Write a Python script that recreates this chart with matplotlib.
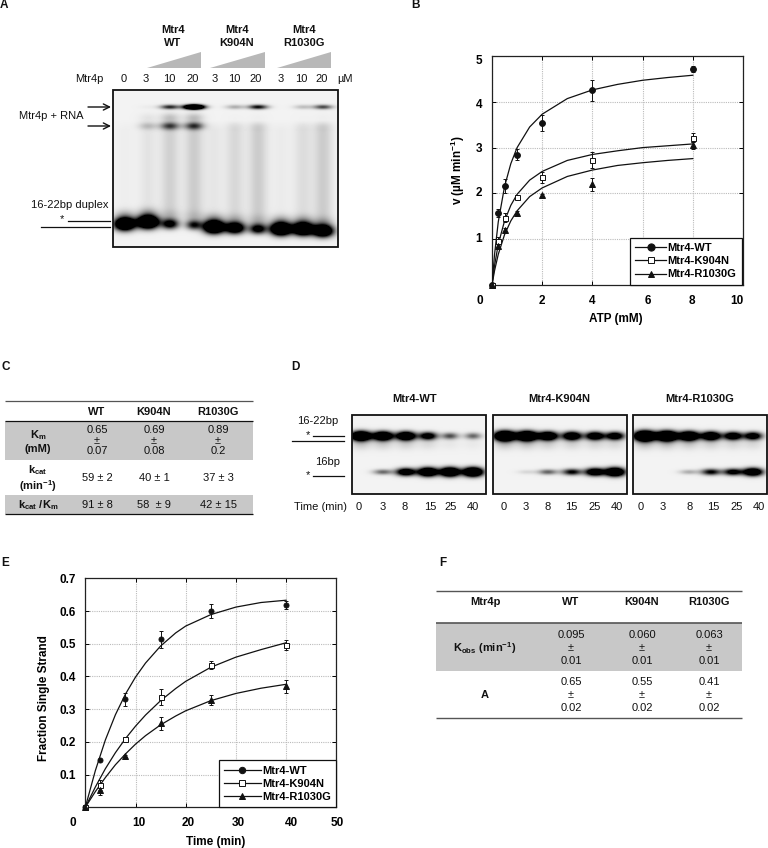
import matplotlib
matplotlib.use("Agg")
import matplotlib.pyplot as plt
import numpy as np
from matplotlib.patches import Polygon, Rectangle
from matplotlib.transforms import ScaledTranslation

plt.rcParams["font.family"] = ["Liberation Sans", "DejaVu Sans"]
plt.rcParams["mathtext.fontset"] = "custom"
plt.rcParams["mathtext.rm"] = "Liberation Sans"
plt.rcParams["mathtext.bf"] = "Liberation Sans:bold"

W, H = 768, 848
names = ["Mtr4-WT", "Mtr4-K904N", "Mtr4-R1030G"]

# panel B: points
atp = [0, 0.25, 0.5, 1, 2, 4, 8]
v_wt = [0, 1.57, 2.16, 2.84, 3.54, 4.25, 4.72]
v_wt_err = [0, 0.08, 0.15, 0.12, 0.17, 0.23, 0.06]
v_k = [0, 0.97, 1.47, 1.92, 2.35, 2.73, 3.22]
v_k_err = [0, 0.08, 0.1, 0.05, 0.12, 0.17, 0.1]
v_r = [0, 0.85, 1.2, 1.58, 1.96, 2.2, 3.05]
v_r_err = [0, 0.05, 0.05, 0.04, 0.03, 0.14, 0.08]

# panel B: fitted curves
atp_fit = [0, 0.1, 0.25, 0.5, 0.75, 1, 1.5, 2, 3, 4, 5, 6, 7, 8]
fit_b_wt = [0, 0.66, 1.38, 2.15, 2.65, 3.0, 3.45, 3.73, 4.07, 4.26, 4.38, 4.47, 4.53, 4.58]
fit_b_k = [0, 0.42, 0.89, 1.40, 1.74, 1.98, 2.29, 2.48, 2.72, 2.85, 2.93, 3.0, 3.04, 3.08]
fit_b_r = [0, 0.31, 0.67, 1.10, 1.40, 1.62, 1.93, 2.12, 2.37, 2.51, 2.61, 2.67, 2.72, 2.76]

# panel E: points
time_pts = [0, 3, 8, 15, 25, 40]
f_wt = [0, 0.146, 0.33, 0.513, 0.60, 0.618]
f_wt_err = [0, 0, 0.02, 0.025, 0.02, 0.012]
f_k = [0, 0.067, 0.21, 0.337, 0.434, 0.497]
f_k_err = [0, 0.015, 0.005, 0.024, 0.012, 0.015]
f_r = [0, 0.053, 0.158, 0.257, 0.329, 0.37]
f_r_err = [0, 0.015, 0.003, 0.02, 0.015, 0.02]

# panel E: fitted curves
time_fit = [0, 2, 4, 6, 8, 10, 12, 15, 18, 20, 25, 30, 35, 40]
fit_e_wt = [0, 0.112, 0.206, 0.283, 0.346, 0.398, 0.441, 0.493, 0.533, 0.554, 0.589, 0.612, 0.626, 0.633]
fit_e_k = [0, 0.062, 0.118, 0.167, 0.21, 0.248, 0.282, 0.326, 0.363, 0.385, 0.428, 0.459, 0.482, 0.503]
fit_e_r = [0, 0.048, 0.091, 0.13, 0.163, 0.193, 0.219, 0.252, 0.279, 0.295, 0.326, 0.348, 0.364, 0.376]

# gel A, lane intensities
a_doses = ["0", "3", "10", "20", "3", "10", "20", "3", "10", "20"]
a_free = [1.7, 1.9, 0.9, 0.7, 1.8, 1.3, 0.9, 1.8, 1.7, 1.5]
a_top = [0, 0.02, 0.6, 2.2, 0, 0.2, 0.7, 0, 0.15, 0.5]
a_second = [0, 0.2, 0.7, 0.75, 0, 0.03, 0.05, 0, 0.02, 0.05]
a_smear = [0.02, 0.06, 0.14, 0.16, 0.05, 0.11, 0.16, 0.03, 0.09, 0.16]

# gel D, lane intensities
d_times = ["0", "3", "8", "15", "25", "40"]
d_upper = [[1.7, 1.5, 1.4, 0.95, 0.45, 0.38], [1.9, 1.8, 1.4, 1.25, 1.15, 1.05], [2.0, 1.9, 1.6, 1.35, 1.1, 1.0]]
d_lower = [[0, 0.4, 1.2, 1.6, 1.7, 1.8], [0, 0.08, 0.42, 0.75, 1.25, 1.6], [0, 0, 0.2, 0.75, 0.9, 1.35]]

# tables
c_cols = ["WT", "K904N", "R1030G"]
c_km = [("0.65", "0.07"), ("0.69", "0.08"), ("0.89", "0.2")]
c_kcat = ["59 ± 2", "40 ± 1", "37 ± 3"]
c_ratio = ["91 ± 8", "58  ± 9", "42 ± 15"]
f_kobs = [("0.095", "0.01"), ("0.060", "0.01"), ("0.063", "0.01")]
f_a = [("0.65", "0.02"), ("0.55", "0.02"), ("0.41", "0.02")]


def add_axes_px(left, top, right, bottom):
    return fig.add_axes([left / W, 1 - bottom / H, (right - left) / W, (bottom - top) / H])


def txt(x, y, s, size=8, bold=False, ha="center"):
    page.text(x, y, s, fontsize=size, fontweight="bold" if bold else "normal",
              ha=ha, va="center", color="#111111")


def rule(x0, x1, y, color="#111111", lw=0.9):
    page.plot([x0, x1], [y, y], color=color, lw=lw, solid_capstyle="butt")


def gauss(x, c, s):
    return np.exp(-((x - c) / s) ** 2 / 2)


def draw_gel(left, top, right, bottom, bands, smears):
    xs = np.arange(left, right) + 0.5
    ys = np.arange(top, bottom) + 0.5
    gx, gy = np.meshgrid(xs, ys)
    dark = np.zeros_like(gx)
    for cx, cy, sx, sy, amp in bands:
        dark += amp * gauss(gx, cx, sx) * gauss(gy, cy, sy)
    for cx, y0, y1, sx, amp in smears:
        fade = np.clip((gy - y0) / 10, 0, 1) * np.clip((y1 - gy) / 6, 0, 1)
        dark += amp * gauss(gx, cx, sx) * fade
    img = 0.95 * (1 - np.clip(dark, 0, 1))
    page.imshow(img, extent=(left, right, bottom, top), cmap="gray", vmin=0, vmax=1,
                aspect="auto", interpolation="bilinear", zorder=1)
    page.add_patch(Rectangle((left, top), right - left, bottom - top, fill=False,
                             ec="#111111", lw=1.3, zorder=2))


def style_plot(ax, xlim, ylim, xticks, yticks, xlabels, ylabels, xshift, yshift):
    ax.set_xlim(xlim)
    ax.set_ylim(ylim)
    ax.set_xticks(xticks)
    ax.set_yticks(yticks)
    ax.set_xticklabels(xlabels, fontweight="bold", fontsize=8.5)
    ax.set_yticklabels(ylabels, fontweight="bold", fontsize=8.5)
    ax.grid(True, color="#bbbbbb", lw=0.8, ls=(0, (1, 1)))
    ax.set_axisbelow(True)
    ax.tick_params(direction="in", length=3, width=0.7, top=True, right=True, pad=7)
    for s in ax.spines.values():
        s.set_linewidth(0.9)
        s.set_color("#222222")
    # labels in the original sit off their ticks
    for lab, dx in zip(ax.get_xticklabels(), xshift):
        lab.set_transform(lab.get_transform() + ScaledTranslation(dx / 100, 0, fig.dpi_scale_trans))
    for lab, dy in zip(ax.get_yticklabels(), yshift):
        lab.set_transform(lab.get_transform() + ScaledTranslation(0, dy / 100, fig.dpi_scale_trans))


def draw_series(ax, x, y, yerr, xfit, yfit, marker, face, name, ms, lw=0.9):
    ax.plot(xfit, yfit, color="#111111", lw=lw, zorder=3)
    ax.errorbar(x, y, yerr=yerr, fmt=marker, mfc=face, mec="#111111", mew=0.7, ms=ms,
                ecolor="#111111", elinewidth=0.7, capsize=1.5, capthick=0.7, zorder=4,
                clip_on=False)
    ax.plot([], [], color="#111111", lw=0.9, marker=marker, mfc=face, mec="#111111",
            mew=0.7, ms=ms + 1, label=name)


def add_legend(ax, anchor, handle_len):
    leg = ax.legend(loc="lower right", bbox_to_anchor=anchor, borderaxespad=0, fancybox=False,
                    framealpha=1, edgecolor="#111111",
                    prop={"weight": "bold", "size": 8}, handlelength=handle_len, handletextpad=0.1,
                    labelspacing=0.28, borderpad=0.5)
    leg.get_frame().set_linewidth(0.9)
    leg.set_zorder(6)


fig = plt.figure(figsize=(W / 100, H / 100), dpi=100)
page = fig.add_axes([0, 0, 1, 1])
page.set_xlim(0, W)
page.set_ylim(H, 0)
page.axis("off")

# panel letters
for letter, lx, ly in [("A", 4, 5), ("B", 415, 5), ("C", 6, 367), ("D", 295, 367), ("E", 5, 563), ("F", 443, 563)]:
    txt(lx, ly, letter, bold=True, size=8.5)

# panel A
for cx, label in [(173, "Mtr4\nWT"), (237, "Mtr4\nK904N"), (304, "Mtr4\nR1030G")]:
    a, b = label.split("\n")
    txt(cx, 30, a, bold=True)
    txt(cx, 43, b, bold=True)
for x0, x1 in [(147, 201), (210, 265), (277, 331)]:
    page.add_patch(Polygon([(x0, 68), (x1, 68), (x1, 52)], fc="#b8b8b8", ec="none"))
txt(89, 79, "Mtr4p")
a_label_x = [124, 146, 169, 193, 215, 234, 256, 281, 301, 322]
for x, s in zip(a_label_x, a_doses):
    txt(x, 79, s)
txt(345, 79, "µM")
txt(51, 116, "Mtr4p + RNA")
for y in [107, 126]:
    page.annotate("", xy=(111, y), xytext=(88, y),
                  arrowprops=dict(arrowstyle="->", color="#111111", lw=1.0, mutation_scale=11,
                                  shrinkA=0, shrinkB=0))
txt(70, 205, "16-22bp duplex")
txt(62, 219, "*")
page.plot([68, 110], [221, 221], color="#111111", lw=0.9)
page.plot([41, 110], [227, 227], color="#111111", lw=0.9)

lane_a = [125, 148, 170, 194, 214, 235, 258, 281, 303, 323]
free_y = [224, 222, 224, 225, 227, 228, 229, 229, 229, 231]
bands = []
smears = []
for i, cx in enumerate(lane_a):
    wide = 4.2 + 2.8 * min(a_free[i], 1.5) / 1.5
    bands.append((cx, free_y[i], wide, 2.4 + 1.9 * min(a_free[i], 1.7) / 1.7, a_free[i] * 1.4))
    bands.append((cx, free_y[i] - 9, 7, 4, a_free[i] * 0.13))
    bands.append((cx, 107, 6.5, 1.6, a_top[i] * 1.4))
    bands.append((cx, 126, 6.5, 2.6, a_second[i]))
    bands.append((cx, 118, 6.5, 3.5, a_second[i] * 0.3))
    smears.append((cx, 120, free_y[i], 6.5, a_smear[i]))
draw_gel(113, 90, 338, 247, bands, smears)

# panel B
ax_b = add_axes_px(492, 56, 743, 285)
style_plot(ax_b, (0, 10), (0, 5), [0, 2, 4, 6, 8, 10], [1, 2, 3, 4, 5],
           ["0", "2", "4", "6", "8", "10"], ["1", "2", "3", "4", "5"],
           [-12, 0, 0, 5, -1, -6], [2, 2, 0, -2, -3])
draw_series(ax_b, atp, v_wt, v_wt_err, atp_fit, fit_b_wt, "o", "#111111", names[0], 4.2)
draw_series(ax_b, atp, v_k, v_k_err, atp_fit, fit_b_k, "s", "white", names[1], 3.6)
draw_series(ax_b, atp, v_r, v_r_err, atp_fit, fit_b_r, "^", "#111111", names[2], 3.8)
add_legend(ax_b, (0.995, 0), 2.8)
ax_b.set_xlabel("ATP (mM)", fontweight="bold", fontsize=8.5)
ax_b.xaxis.set_label_coords(616, 313, transform=page.transData)
ax_b.set_ylabel(r"v (µM min$^{\mathbf{-1}}$)", fontweight="bold", fontsize=8.5)
ax_b.yaxis.set_label_coords(467, 170, transform=page.transData)

# panel C
page.add_patch(Rectangle((5, 421), 248, 39, fc="#c8c8c8", ec="none"))
page.add_patch(Rectangle((5, 495), 248, 19, fc="#c8c8c8", ec="none"))
rule(5, 253, 401, "#555555")
rule(5, 253, 421)
rule(5, 253, 514)
c_x = [97, 154, 218]
for i, x in enumerate(c_x):
    txt(x, 412, c_cols[i], bold=True)
    txt(x, 430, c_km[i][0])
    txt(x, 441, "±")
    txt(x, 451, c_km[i][1])
    txt(x, 478, c_kcat[i])
    txt(x, 505, c_ratio[i])
txt(38, 435, r"K$_{\mathbf{m}}$", bold=True)
txt(38, 449, "(mM)", bold=True)
txt(38, 470, r"k$_{\mathbf{cat}}$", bold=True)
txt(38, 486, r"(min$^{\mathbf{-1}}$)", bold=True)
txt(38, 505, r"k$_{\mathbf{cat}}$ /K$_{\mathbf{m}}$", bold=True)

# panel D
boxes = [(352, 486), (493, 627), (633, 767)]
d_lanes = [[361, 383, 406, 428, 450, 473], [505, 527, 548, 572, 595, 615], [645, 667, 689, 711, 733, 753]]
for b, (x0, x1) in enumerate(boxes):
    bands = []
    for i, cx in enumerate(d_lanes[b]):
        up = d_upper[b][i]
        bands.append((cx, 436, 5.4 + 1.6 * min(up, 2) / 2, 2 + 1.4 * min(up, 2) / 2, up * 1.5))
        bands.append((cx, 444, 7, 4, up * 0.1))
        bands.append((cx, 472, 6.6, 1.5 + 1.6 * min(d_lower[b][i], 1.7) / 1.7, d_lower[b][i] * 1.4))
    draw_gel(x0, 415, x1, 494, bands, [])
for x, s in [(415, names[0]), (559, names[1]), (700, names[2])]:
    txt(x, 399, s, bold=True)
txt(318, 421, "16-22bp")
txt(308, 435, "*")
page.plot([313, 344], [436, 436], color="#111111", lw=0.9)
page.plot([292, 344], [441, 441], color="#111111", lw=0.9)
txt(328, 462, "16bp")
txt(308, 475, "*")
page.plot([313, 344], [476, 476], color="#111111", lw=0.9)
txt(320, 507, "Time (min)")
d_label_x = [359, 383, 405, 430, 451, 473, 504, 526, 548, 571, 595, 617, 641, 663, 690, 713, 737, 759]
for i, x in enumerate(d_label_x):
    txt(x, 507, d_times[i % 6])

# panel E
ax_e = add_axes_px(85.3, 578.3, 336.3, 807.3)
style_plot(ax_e, (0, 50), (0, 0.7), [0, 10, 20, 30, 40, 50], [0.1, 0.2, 0.3, 0.4, 0.5, 0.6, 0.7],
           ["0", "10", "20", "30", "40", "50"], ["0.1", "0.2", "0.3", "0.4", "0.5", "0.6", "0.7"],
           [-12, 3, 2, 2, 5, 1], [0, 0, 0, 0, 0, 0, 0])
draw_series(ax_e, time_pts, f_wt, f_wt_err, time_fit, fit_e_wt, "o", "#111111", names[0], 3.6)
draw_series(ax_e, time_pts, f_k, f_k_err, time_fit, fit_e_k, "s", "white", names[1], 3.6)
draw_series(ax_e, time_pts, f_r, f_r_err, time_fit, fit_e_r, "^", "#111111", names[2], 3.8)
add_legend(ax_e, (1, 0), 3.3)
ax_e.set_xlabel("Time (min)", fontweight="bold", fontsize=8.5)
ax_e.xaxis.set_label_coords(216, 836, transform=page.transData)
ax_e.set_ylabel("Fraction Single Strand", fontweight="bold", fontsize=8.5)
ax_e.yaxis.set_label_coords(50, 698, transform=page.transData)

# panel F
page.add_patch(Rectangle((436, 623), 306, 48, fc="#c8c8c8", ec="none"))
rule(436, 742, 591, "#555555", 1.0)
rule(436, 742, 623, "#555555", 1.2)
rule(436, 742, 718, "#555555", 1.0)
f_x = [571, 642, 709]
txt(485, 602, "Mtr4p", bold=True)
for i, x in enumerate(f_x):
    txt(x, 602, c_cols[i], bold=True)
    txt(x, 635, f_kobs[i][0])
    txt(x, 648, "±")
    txt(x, 661, f_kobs[i][1])
    txt(x, 682, f_a[i][0])
    txt(x, 695, "±")
    txt(x, 708, f_a[i][1])
txt(485, 648, r"K$_{\mathbf{obs}}$ (min$^{\mathbf{-1}}$)", bold=True)
txt(485, 695, "A", bold=True)

page.set_xlim(0, W)
page.set_ylim(H, 0)
fig.savefig("out.png", dpi=100)
